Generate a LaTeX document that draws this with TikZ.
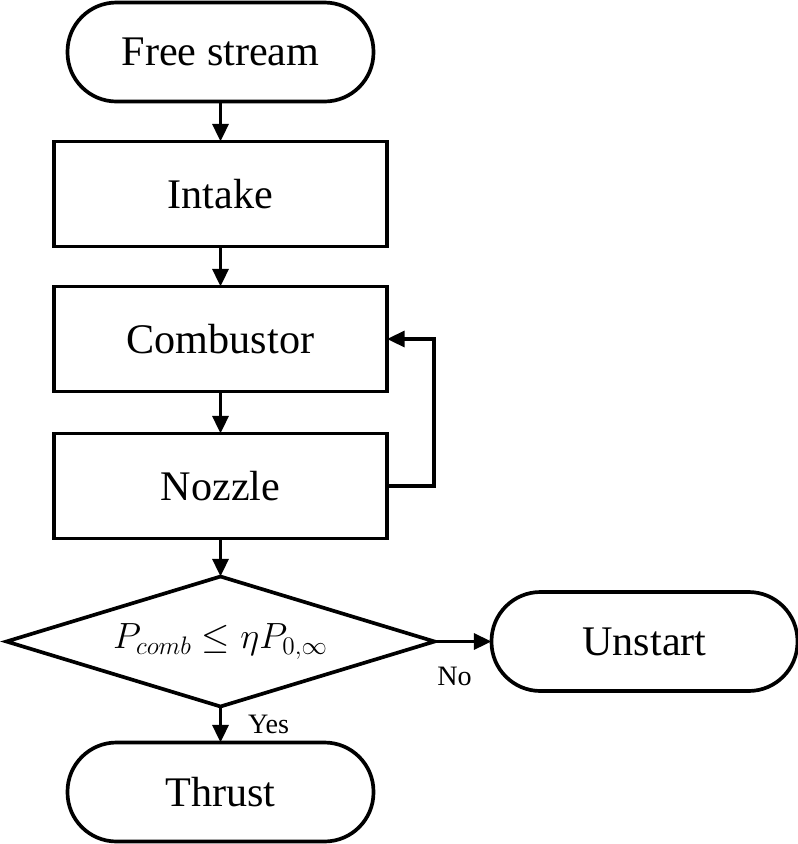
\documentclass[tikz,border=0pt]{standalone}
\usepackage{fontspec}
\setmainfont{Liberation Serif}
\usepackage{amsmath,amssymb}
\usepackage{tikz}
\usetikzlibrary{shapes.geometric, arrows.meta, positioning}

\begin{document}
\begin{tikzpicture}[
    font=\fontsize{24}{28}\selectfont,
    line width=2.1pt,
    terminal/.style={draw, outer sep=0pt, rounded corners=0.98cm, minimum width=6.12cm, minimum height=1.98cm},
    process/.style={draw, outer sep=0pt, minimum width=6.66cm, minimum height=2.1cm},
    decision/.style={draw, diamond, aspect=3.3, inner sep=0pt, outer sep=0pt, minimum width=8.56cm, minimum height=2.6cm},
    flow/.style={-{Triangle[length=10pt,width=9pt]}},
    tag/.style={font=\fontsize{16}{18}\selectfont}
]
\useasboundingbox (0,0) rectangle (15.96,-16.88);

% ---- main chain ----
\node[terminal] (free) at (4.41,-1.04) {Free stream};
\node[process, below=0.8cm of free] (intake) {Intake};
\node[process, below=0.8cm of intake] (comb) {Combustor};
\node[process, below=0.84cm of comb] (nozzle) {Nozzle};
\node[decision, below=0.76cm of nozzle] (check) {\fontsize{22}{24}\selectfont$P_{comb}\leq \eta P_{0,\infty}$};
\node[terminal, right=1.14cm of check] (unstart) {Unstart};
\node[terminal, below=0.72cm of check] (thrust) {Thrust};

% ---- connectors ----
\draw[flow] (free) -- (intake);
\draw[flow] (intake) -- (comb);
\draw[flow] (comb) -- (nozzle);
\draw[flow] (nozzle) -- (check);
\draw[flow] (nozzle.east) -- ++(0.94,0) |- (comb.east);
\draw[flow] (check.east) -- node[tag, pos=0.35, below=0.36cm] (no) {No} (unstart);
\draw[flow] (check.south) -- node[tag, midway, right=0.4cm] (yes) {Yes} (thrust);

\end{tikzpicture}
\end{document}
